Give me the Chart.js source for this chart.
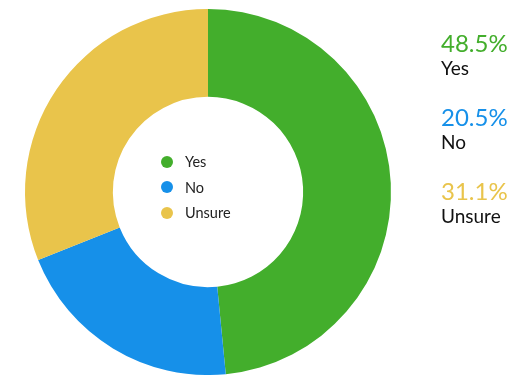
<!DOCTYPE html>
<html>
<head>
<meta charset="utf-8">
<script src="https://cdn.jsdelivr.net/npm/chart.js@4"></script>
<style>
  html, body { margin: 0; padding: 0; background: #fff; }
  #wrap { position: relative; width: 513px; height: 375px; font-family: Lato, sans-serif; }
  #center-legend { position: absolute; left: 161px; top: 149px; font-size: 14.5px; color: #222; }
  #center-legend div { display: flex; align-items: center; height: 25.5px; }
  #center-legend span.dot { width: 12px; height: 12px; border-radius: 50%; margin-right: 12px; }
  #side { position: absolute; left: 441px; top: 29px; }
  #side .item { height: 74px; }
  #side .pct { font-size: 24px; line-height: 28px; }
  #side .name { font-size: 19px; line-height: 22px; color: #111; }
</style>
</head>
<body>
<div id="wrap">
  <canvas id="donut" width="513" height="375"></canvas>
  <div id="center-legend"></div>
  <div id="side"></div>
</div>
<script>
// survey answers, percent of responses
const answers = ['Yes', 'No', 'Unsure'];
const shares = [48.5, 20.5, 31.1];
const sliceColors = ['#43ae2c', '#1690e9', '#e9c44b'];

// --- legend inside the hole ---
const legendEl = document.getElementById('center-legend');
legendEl.innerHTML = answers.map((a, i) =>
  `<div><span class="dot" style="background:${sliceColors[i]}"></span>${a}</div>`).join('');

// --- percentages on the right ---
const sideEl = document.getElementById('side');
sideEl.innerHTML = answers.map((a, i) =>
  `<div class="item"><div class="pct" style="color:${sliceColors[i]}">${shares[i]}%</div><div class="name">${a}</div></div>`).join('');

// --- doughnut ---
new Chart(document.getElementById('donut'), {
  type: 'doughnut',
  data: {
    labels: answers,
    datasets: [{
      data: shares,
      backgroundColor: sliceColors,
      borderWidth: 0
    }]
  },
  options: {
    responsive: false,
    animation: false,
    cutout: '52%',
    layout: { padding: { left: 25, right: 122, top: 9, bottom: 0 } },
    plugins: { legend: { display: false }, tooltip: { enabled: false } }
  }
});
</script>
</body>
</html>
